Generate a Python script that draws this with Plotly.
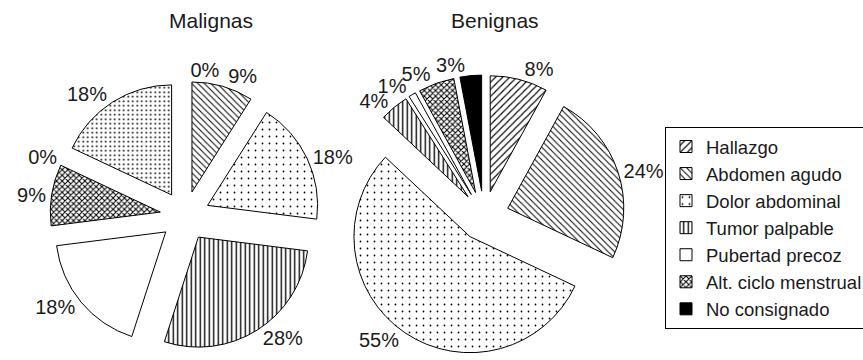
import plotly.graph_objects as go

# ---- data ----
labels = ["Hallazgo", "Abdomen agudo", "Dolor abdominal", "Tumor palpable",
          "Pubertad precoz", "Alt. ciclo menstrual", "No consignado"]
malignas_labels = labels + ["Otros"]
malignas_values = [0, 9, 18, 28, 18, 9, 0, 18]
benignas_values = [8, 24, 55, 4, 1, 5, 3]
titles = ["Malignas", "Benignas"]

# ---- styles ----
shapes_all = ["/", "\\", ".", "|", "", "x", "", "."]
bg_all = ["white", "white", "white", "white", "white", "white", "black", "white"]
size_all = [5, 4.5, 7, 4.5, 8, 4, 8, 4.5]
sol_all = [0.22, 0.22, 0.05, 0.3, 0.2, 0.45, 0.2, 0.14]

FONT = "Liberation Sans, Arial, sans-serif"
TXT = "#1a1a1a"

fig = go.Figure()

def add_pie(lbls, vals, domain, pull, showlegend):
    n = len(vals)
    # slices (no text)
    fig.add_trace(go.Pie(
        labels=lbls, values=vals, sort=False, direction="clockwise", rotation=0,
        pull=pull,
        marker=dict(
            colors=bg_all[:n],
            line=dict(color="black", width=[0 if v == 0 else 1 for v in vals]),
            pattern=dict(shape=shapes_all[:n], fgcolor="black", bgcolor=bg_all[:n],
                         size=size_all[:n], solidity=sol_all[:n]),
        ),
        textinfo="none",
        domain=domain, showlegend=showlegend, hoverinfo="label+value",
    ))
    # one transparent overlay per slice carrying only that slice's label
    for i in range(n):
        fig.add_trace(go.Pie(
            labels=lbls, values=vals, sort=False, direction="clockwise", rotation=0,
            pull=pull,
            marker=dict(colors=["rgba(0,0,0,0)"] * n, line=dict(width=0)),
            texttemplate="%{value}%",
            textposition=["outside" if j == i else "none" for j in range(n)],
            textfont=dict(family=FONT, size=20, color=TXT),
            domain=domain, showlegend=False, hoverinfo="skip",
        ))

add_pie(malignas_labels, malignas_values,
        dict(x=[50 / 863, 320 / 863], y=[1 - 351 / 360, 1 - 81 / 360]), 0.227, False)
add_pie(labels, benignas_values,
        dict(x=[343 / 863, 625 / 863], y=[1 - 357 / 360, 1 - 75 / 360]), 0.215, True)

for t, cx in zip(titles, [211, 495]):
    fig.add_annotation(text=t, x=cx / 863, y=1 - 20 / 360, xref="paper", yref="paper",
                       showarrow=False, font=dict(family=FONT, size=21, color=TXT),
                       xanchor="center", yanchor="middle")

fig.update_layout(
    width=863, height=360,
    margin=dict(l=0, r=0, t=0, b=0, autoexpand=False),
    paper_bgcolor="white", plot_bgcolor="white",
    legend=dict(x=665 / 863, y=1 - 127 / 360, xanchor="left", yanchor="top",
                bordercolor="black", borderwidth=1, bgcolor="white",
                font=dict(family=FONT, size=18.5, color=TXT),
                traceorder="normal", itemwidth=30),
)

fig.write_html("out.html")
